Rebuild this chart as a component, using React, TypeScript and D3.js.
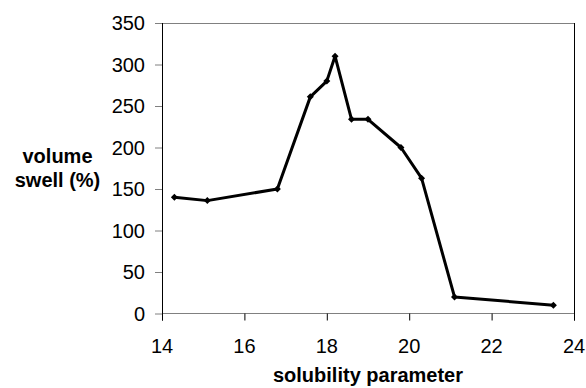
import React from 'react'
import * as d3 from 'd3'

// volume swell vs solubility parameter
const solubility = [14.3, 15.1, 16.8, 17.6, 18.0, 18.2, 18.6, 19.0, 19.8, 20.3, 21.1, 23.5]
const swell = [140, 136, 150, 261, 280, 310, 234, 234, 200, 163, 20, 10]
const xTicks = [14, 16, 18, 20, 22, 24]
const yTicks = [0, 50, 100, 150, 200, 250, 300, 350]

const W = 586
const H = 388
const font = '"Liberation Sans", Arial, sans-serif'

export default function App() {
  const x = d3.scaleLinear().domain([14, 24]).range([162, 574])
  const y = d3.scaleLinear().domain([0, 350]).range([313.5, 23])

  const points = solubility.map((s, i) => [x(s), y(swell[i])] as [number, number])
  const line = d3.line()(points) || ''

  const diamond = (cx: number, cy: number) =>
    `M${cx},${cy - 3.5}L${cx + 3.5},${cy}L${cx},${cy + 3.5}L${cx - 3.5},${cy}Z`

  return (
    <svg
      width={W}
      height={H}
      style={{ position: 'absolute', left: 0, top: 0, background: '#fff' }}
      fontFamily={font}
    >
      {/* plot frame */}
      <line x1={x(14)} x2={x(24)} y1={y(350) + 0.5} y2={y(350) + 0.5} stroke="#808080" />
      <line x1={x(14)} x2={x(24)} y1={y(0)} y2={y(0)} stroke="#808080" />
      <line x1={x(24) + 0.5} x2={x(24) + 0.5} y1={y(350)} y2={y(0) + 7} stroke="#000" />
      <line x1={x(14) + 0.5} x2={x(14) + 0.5} y1={y(350)} y2={y(0) + 7} stroke="#000" />

      {/* y axis ticks */}
      {yTicks.map((t) => (
        <g key={'y' + t}>
          <line x1={x(14) - 7} x2={x(14)} y1={y(t) + 0.5} y2={y(t) + 0.5} stroke="#808080" />
          <text x={x(14) - 17} y={y(t)} dy="0.36em" textAnchor="end" fontSize={20} fill="#000">
            {t}
          </text>
        </g>
      ))}

      {/* x axis ticks */}
      {xTicks.map((t) => (
        <g key={'x' + t}>
          <line x1={x(t) + 0.5} x2={x(t) + 0.5} y1={y(0)} y2={y(0) + 7} stroke="#000" />
          <text x={x(t)} y={353} textAnchor="middle" fontSize={20} fill="#000">
            {t}
          </text>
        </g>
      ))}

      {/* series */}
      <path d={line} fill="none" stroke="#000" strokeWidth={3} strokeLinejoin="round" />
      {points.map(([px, py], i) => (
        <path key={i} d={diamond(px, py)} fill="#000" />
      ))}

      {/* axis titles */}
      <text x={x(19)} y={382} textAnchor="middle" fontSize={20} fontWeight="bold">
        solubility parameter
      </text>
      <text x={57.5} y={163} textAnchor="middle" fontSize={20} fontWeight="bold">
        volume
      </text>
      <text x={57.5} y={187} textAnchor="middle" fontSize={20} fontWeight="bold">
        swell (%)
      </text>
    </svg>
  )
}
